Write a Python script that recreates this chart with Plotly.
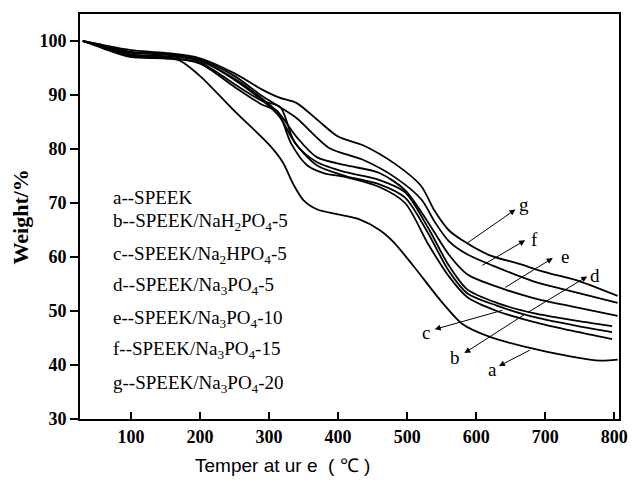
import plotly.graph_objects as go

# ---- data ----
a_x = [30, 60, 100, 150, 170, 200, 250, 300, 320, 335, 350, 370, 400, 430, 460, 480, 510, 550, 580, 620, 670, 740, 780, 805]
a_y = [100, 99.0, 97.3, 96.8, 96.4, 93.5, 87.0, 80.8, 77.5, 73.5, 70.5, 68.8, 67.9, 67.0, 65.0, 62.8, 58.2, 51.7, 47.6, 45.2, 43.4, 41.5, 40.8, 41.0]

b_x = [30, 60, 100, 150, 200, 250, 290, 312, 332, 355, 380, 411, 459, 497, 530, 560, 587, 630, 683, 740, 797]
b_y = [100, 98.8, 97.3, 97.0, 95.8, 91.5, 88.2, 87.0, 81.0, 77.0, 75.5, 74.8, 73.0, 70.0, 62.5, 56.5, 52.6, 50.0, 48.0, 46.3, 44.8]

c_x = [30, 60, 100, 150, 200, 250, 290, 316, 336, 369, 411, 459, 497, 530, 560, 587, 630, 683, 740, 797]
c_y = [100, 98.6, 97.0, 96.8, 96.0, 92.0, 88.9, 87.8, 81.5, 77.0, 75.0, 73.5, 71.0, 64.5, 57.5, 53.3, 51.0, 48.9, 47.4, 46.1]

d_x = [30, 60, 100, 150, 200, 250, 290, 315, 340, 369, 411, 459, 497, 530, 560, 587, 630, 683, 740, 797]
d_y = [100, 99.0, 97.5, 97.2, 96.4, 92.8, 89.0, 86.0, 80.7, 77.6, 75.7, 74.3, 72.0, 65.5, 58.5, 54.0, 51.5, 49.6, 48.3, 47.2]

e_x = [30, 60, 100, 150, 200, 250, 290, 315, 340, 369, 411, 459, 497, 530, 560, 587, 630, 683, 740, 805]
e_y = [100, 99.0, 97.8, 97.5, 96.3, 93.0, 89.3, 86.5, 82.2, 78.5, 77.0, 75.6, 72.4, 66.5, 60.5, 56.8, 54.5, 52.4, 50.8, 49.1]

f_x = [30, 60, 100, 150, 200, 250, 290, 315, 340, 387, 436, 483, 521, 540, 560, 587, 626, 683, 730, 805]
f_y = [100, 99.2, 98.0, 97.6, 96.5, 93.5, 89.8, 87.8, 85.7, 80.2, 78.0, 74.7, 70.6, 66.5, 63.0, 60.5, 58.3, 55.5, 53.9, 51.5]

g_x = [30, 60, 100, 150, 200, 250, 290, 315, 340, 370, 400, 436, 483, 520, 540, 560, 580, 620, 660, 700, 750, 805]
g_y = [100, 99.2, 98.3, 97.8, 96.8, 94.0, 91.0, 89.5, 88.5, 85.4, 82.3, 80.7, 77.2, 73.2, 68.5, 65.0, 63.1, 60.3, 58.8, 57.2, 55.5, 52.8]

series = [(a_x, a_y), (b_x, b_y), (c_x, c_y), (d_x, d_y), (e_x, e_y), (f_x, f_y), (g_x, g_y)]

legend_lines = [
    "a--SPEEK",
    "b--SPEEK/NaH<sub>2</sub>PO<sub>4</sub>-5",
    "c--SPEEK/Na<sub>2</sub>HPO<sub>4</sub>-5",
    "d--SPEEK/Na<sub>3</sub>PO<sub>4</sub>-5",
    "e--SPEEK/Na<sub>3</sub>PO<sub>4</sub>-10",
    "f--SPEEK/Na<sub>3</sub>PO<sub>4</sub>-15",
    "g--SPEEK/Na<sub>3</sub>PO<sub>4</sub>-20",
]
legend_y = [71.1, 66.5, 60.4, 54.6, 48.5, 42.7, 36.4]

# label letter, label position, arrow tail (on curve), arrow head (near label)
labels = ["a", "b", "c", "d", "e", "f", "g"]
label_pos = [(624, 39.1), (570, 41.3), (527, 46.1), (772, 56.5), (729, 60.1), (684, 63.3), (670, 69.8)]
arrow_tail = [(680, 42.9), (673, 49.6), (640, 50.2), (673, 49.6), (640, 54.2), (607, 58.3), (585, 62.4)]
arrow_head = [(633, 39.8), (583, 42.2), (540, 46.6), (761, 56.4), (711, 59.8), (671, 63.1), (657, 68.8)]

x_ticks = [100, 200, 300, 400, 500, 600, 700, 800]
y_ticks = [30, 40, 50, 60, 70, 80, 90, 100]

SERIF = "Liberation Serif, Times New Roman, serif"
SANS = "Liberation Sans, Arial, sans-serif"

fig = go.Figure()
for xs, ys in series:
    fig.add_trace(go.Scatter(x=xs, y=ys, mode="lines",
                             line=dict(color="black", width=1.8, shape="spline", smoothing=0.8),
                             showlegend=False, hoverinfo="skip"))

ann = []
for txt, yv in zip(legend_lines, legend_y):
    ann.append(dict(x=71.4, y=yv, xref="x", yref="y", text=txt, showarrow=False,
                    xanchor="left", yanchor="middle",
                    font=dict(family=SERIF, size=19, color="black")))
for lab, (lx, ly), (tx, ty), (hx, hy) in zip(labels, label_pos, arrow_tail, arrow_head):
    ann.append(dict(x=lx, y=ly, xref="x", yref="y", text=lab, showarrow=False,
                    xanchor="center", yanchor="middle",
                    font=dict(family=SERIF, size=19, color="black")))
    ann.append(dict(x=hx, y=hy, xref="x", yref="y", ax=tx, ay=ty, axref="x", ayref="y",
                    text="", showarrow=True, arrowhead=2, arrowsize=1.2, arrowwidth=1,
                    arrowcolor="black", standoff=0, startstandoff=0))

ann.append(dict(x=-0.1095, y=0.5, xref="paper", yref="paper", text="<b>Weight/%</b>",
                textangle=-90, showarrow=False, xanchor="center", yanchor="middle",
                font=dict(family=SERIF, size=22, color="black")))
ann.append(dict(x=0.376, y=-0.115, xref="paper", yref="paper", text="Temper at ur e  ( ℃ )",
                showarrow=False, xanchor="center", yanchor="middle",
                font=dict(family=SANS, size=19, color="black")))

fig.update_layout(
    width=640, height=485,
    margin=dict(l=80, r=12, t=13, b=66),
    paper_bgcolor="white", plot_bgcolor="white",
    annotations=ann,
    xaxis=dict(range=[26, 807], tickvals=x_ticks, ticktext=["<b>%d</b>" % v for v in x_ticks],
               ticks="inside", ticklen=7, tickwidth=1.5, tickcolor="black",
               showline=True, linecolor="black", linewidth=2, mirror=True,
               showgrid=False, zeroline=False,
               tickfont=dict(family=SERIF, size=18, color="black")),
    yaxis=dict(range=[30, 105], tickvals=y_ticks, ticktext=["<b>%d</b>" % v for v in y_ticks],
               ticks="outside", ticklen=8, tickwidth=1.5, tickcolor="black",
               showline=True, linecolor="black", linewidth=2, mirror=True,
               showgrid=False, zeroline=False,
               tickfont=dict(family=SERIF, size=18, color="black")),
)

fig.write_html("out.html")
